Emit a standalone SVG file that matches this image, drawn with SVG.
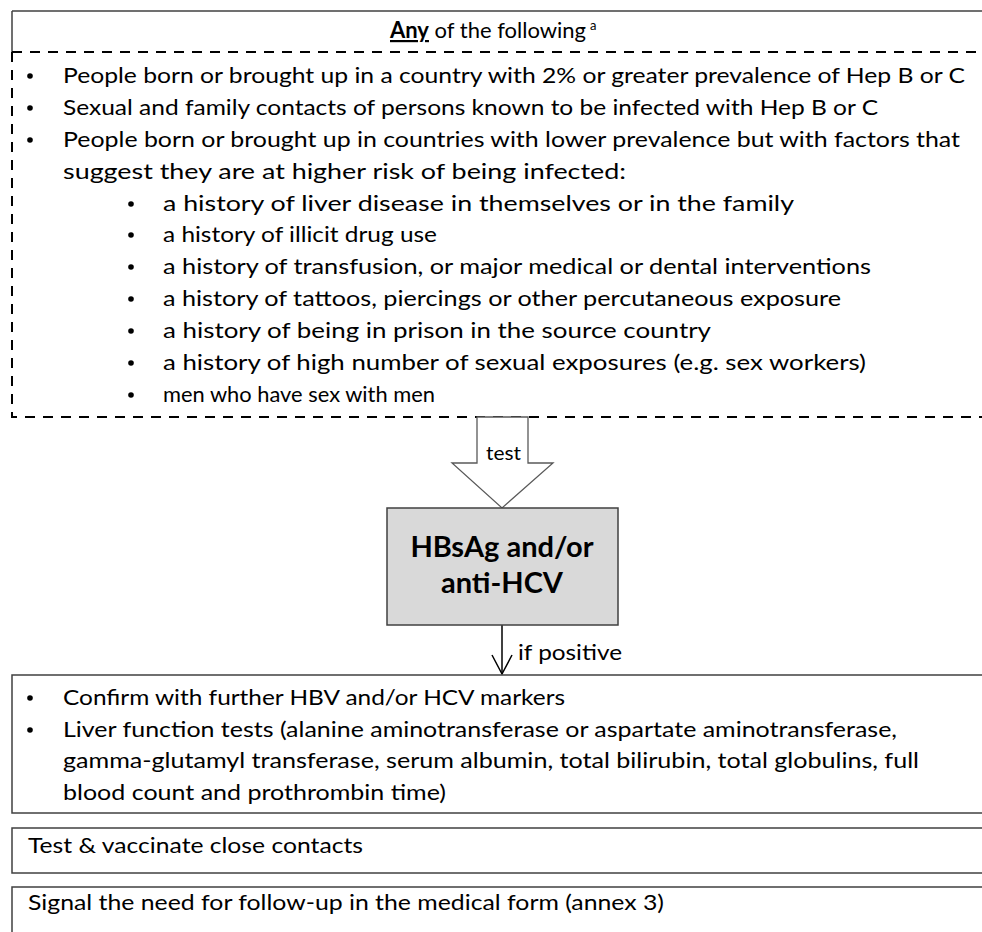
<svg xmlns="http://www.w3.org/2000/svg" width="982" height="932" viewBox="0 0 982 932">
<style>
  text { font-family: Lato, "Open Sans", "Liberation Sans", sans-serif; fill: #000; }
  .t { font-size: 22px; }
  .dot { fill: #000; }
  .box { fill: #fff; stroke: #404040; stroke-width: 1.5; }
  .dash { fill: none; stroke: #000; stroke-width: 2; stroke-dasharray: 10 8; }
  .hd { font-size: 29px; font-weight: bold; text-anchor: middle; }
</style>
<rect width="982" height="932" fill="#fff"/>

<g id="criteria">
  <line x1="12" y1="11" x2="1100" y2="11" stroke="#404040" stroke-width="1.5"/>
  <line x1="12" y1="11" x2="12" y2="52" stroke="#404040" stroke-width="1.5"/>
  <path class="dash" d="M12 52 H1100 M12 52 V417 H1100"/>
  <text class="t" x="390" y="38"><tspan font-weight="bold" text-decoration="underline">Any</tspan> of the following</text>
  <text x="590" y="30" font-size="13">a</text>
  <circle class="dot" cx="30" cy="76" r="2.8"/>
  <text class="t" x="63" y="83" textLength="902" lengthAdjust="spacingAndGlyphs">People born or brought up in a country with 2% or greater prevalence of Hep B or C</text>
  <circle class="dot" cx="30" cy="108" r="2.8"/>
  <text class="t" x="63" y="115" textLength="815" lengthAdjust="spacingAndGlyphs">Sexual and family contacts of persons known to be infected with Hep B or C</text>
  <circle class="dot" cx="30" cy="140" r="2.8"/>
  <text class="t" x="63" y="147" textLength="897" lengthAdjust="spacingAndGlyphs">People born or brought up in countries with lower prevalence but with factors that</text>
  <text class="t" x="63" y="179" textLength="563" lengthAdjust="spacingAndGlyphs">suggest they are at higher risk of being infected:</text>
  <circle class="dot" cx="131" cy="204" r="2.8"/>
  <text class="t" x="163" y="211" textLength="631" lengthAdjust="spacingAndGlyphs">a history of liver disease in themselves or in the family</text>
  <circle class="dot" cx="131" cy="235" r="2.8"/>
  <text class="t" x="163" y="242" textLength="274" lengthAdjust="spacingAndGlyphs">a history of illicit drug use</text>
  <circle class="dot" cx="131" cy="267" r="2.8"/>
  <text class="t" x="163" y="274" textLength="708" lengthAdjust="spacingAndGlyphs">a history of transfusion, or major medical or dental interventions</text>
  <circle class="dot" cx="131" cy="299" r="2.8"/>
  <text class="t" x="163" y="306" textLength="678" lengthAdjust="spacingAndGlyphs">a history of tattoos, piercings or other percutaneous exposure</text>
  <circle class="dot" cx="131" cy="331" r="2.8"/>
  <text class="t" x="163" y="338" textLength="548" lengthAdjust="spacingAndGlyphs">a history of being in prison in the source country</text>
  <circle class="dot" cx="131" cy="363" r="2.8"/>
  <text class="t" x="163" y="370" textLength="703" lengthAdjust="spacingAndGlyphs">a history of high number of sexual exposures (e.g. sex workers)</text>
  <circle class="dot" cx="131" cy="395" r="2.8"/>
  <text class="t" x="163" y="402" textLength="272" lengthAdjust="spacingAndGlyphs">men who have sex with men</text>
</g>

<g id="connectors">
  <polygon points="477,417 528,417 528,463 553,463 502,508 452,463 477,463" fill="#fff" stroke="#595959" stroke-width="1.3"/>
  <text x="486" y="460" font-size="20" textLength="35" lengthAdjust="spacingAndGlyphs">test</text>
  <line x1="502" y1="625" x2="502" y2="674" stroke="#000" stroke-width="1.5"/>
  <polyline points="492,655 502,674 512,655" fill="none" stroke="#000" stroke-width="1.5"/>
  <text class="t" x="518" y="660" textLength="104" lengthAdjust="spacingAndGlyphs">if positive</text>
</g>

<g id="test-box">
  <rect x="387" y="508" width="231" height="117" fill="#d9d9d9" stroke="#404040" stroke-width="1.5"/>
  <text class="hd" x="502" y="557">HBsAg and/or</text>
  <text class="hd" x="502" y="593">anti-HCV</text>
</g>

<g id="confirm-box">
  <rect class="box" x="12" y="675" width="1100" height="138"/>
  <circle class="dot" cx="30" cy="698" r="2.8"/>
  <text class="t" x="63" y="705" textLength="502" lengthAdjust="spacingAndGlyphs">Confirm with further HBV and/or HCV markers</text>
  <circle class="dot" cx="30" cy="730" r="2.8"/>
  <text class="t" x="63" y="737" textLength="834" lengthAdjust="spacingAndGlyphs">Liver function tests (alanine aminotransferase or aspartate aminotransferase,</text>
  <text class="t" x="63" y="768" textLength="856" lengthAdjust="spacingAndGlyphs">gamma-glutamyl transferase, serum albumin, total bilirubin, total globulins, full</text>
  <text class="t" x="63" y="800" textLength="383" lengthAdjust="spacingAndGlyphs">blood count and prothrombin time)</text>
</g>

<g id="contacts-box">
  <rect class="box" x="12" y="828" width="1100" height="45"/>
  <text class="t" x="28" y="853" textLength="335" lengthAdjust="spacingAndGlyphs">Test &amp; vaccinate close contacts</text>
</g>

<g id="signal-box">
  <rect class="box" x="12" y="887" width="1100" height="80"/>
  <text class="t" x="28" y="910" textLength="636" lengthAdjust="spacingAndGlyphs">Signal the need for follow-up in the medical form (annex 3)</text>
</g>
</svg>
